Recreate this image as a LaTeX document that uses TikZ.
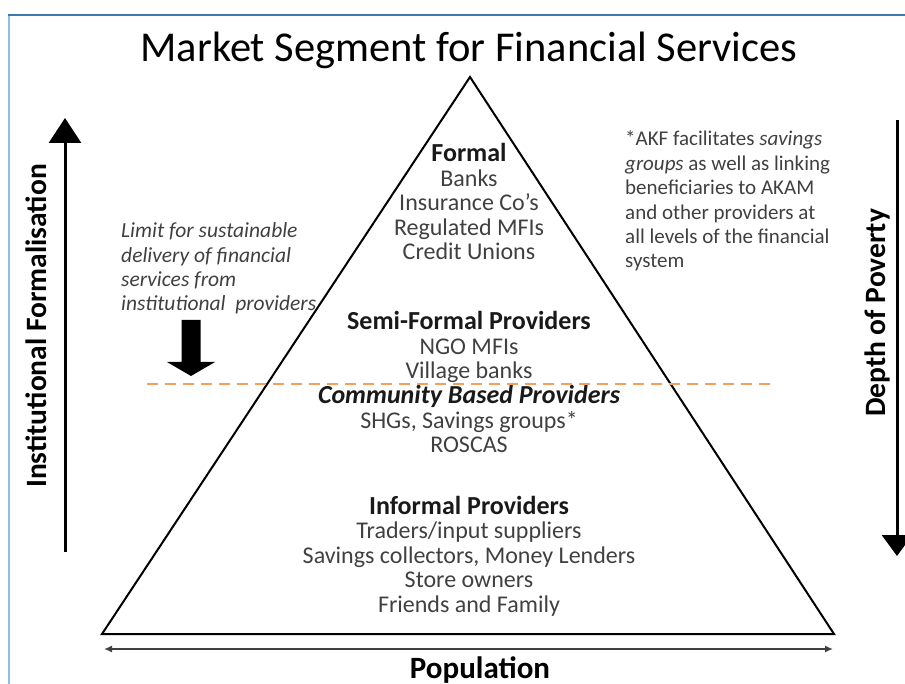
\documentclass[tikz,border=0pt]{standalone}
\usepackage{fontspec}
\setmainfont{Carlito}
\usetikzlibrary{positioning,arrows.meta}

\definecolor{frametop}{RGB}{58,122,176}
\definecolor{frameleft}{RGB}{142,191,224}
\definecolor{limitline}{RGB}{244,160,92}
\newcommand{\tierhead}{\fontsize{26}{24.5}\selectfont\bfseries\color{black!90}}

\begin{document}
\begin{tikzpicture}[x=1pt, y=-1pt,
    tier/.style={align=center, inner sep=0pt, anchor=base, text=black!75, font=\fontsize{24}{24.5}\selectfont},
    sidenote/.style={align=left, inner sep=0pt, anchor=base west, text=black!75, font=\fontsize{21}{24.4}\selectfont},
    axislabel/.style={rotate=90, inner sep=0pt, font=\fontsize{29.5}{32}\selectfont\bfseries}]
    \useasboundingbox (0,0) rectangle (905,684);

    % slide frame
    \draw[frameleft, line width=2pt] (9,15) -- (9,684);
    \draw[frametop, line width=1.5pt] (8,15) -- (905,15);

    % title
    \node[anchor=base, inner sep=0pt, font=\fontsize{42.5}{44}\selectfont] (title) at (469,62) {Market Segment for Financial Services};

    % pyramid
    \coordinate (apex) at (470,77);
    \coordinate (baseL) at (102,634);
    \coordinate (baseR) at (834,634);
    \draw[line width=2pt, line join=miter] (apex) -- (baseL) -- (baseR) -- cycle;

    % tiers of providers (placed by the baseline of their last line)
    \node[tier] (formal) at (469,260) {{\tierhead Formal}\\Banks\\Insurance Co's\\Regulated MFIs\\Credit Unions};
    \node[tier] (semi) at (469,379) {{\tierhead Semi-Formal Providers}\\NGO MFIs\\Village banks};
    \node[tier] (community) at (469,453) {{\tierhead\itshape Community Based Providers}\\SHGs, Savings groups*\\ROSCAS};
    \node[tier] (informal) at (469,612) {{\tierhead Informal Providers}\\Traders/input suppliers\\Savings collectors, Money Lenders\\Store owners\\Friends and Family};

    % limit of institutional providers
    \coordinate (limitL) at (147,384);
    \coordinate (limitR) at (770,384);
    \draw[limitline, line width=2pt, dash pattern=on 11pt off 7pt] (limitL) -- (limitR);
    \node[sidenote, font=\fontsize{21.5}{24.4}\selectfont\itshape] (limit) at (121,311) {Limit for sustainable\\delivery of financial\\services from\\institutional~~providers};
    \fill (181.5,320) -- (200.5,320) -- (200.5,362) -- (215,362) -- (191,376) -- (167,362) -- (181.5,362) -- cycle;

    % note on AKF
    \node[sidenote] (akf) at (625,268) {*AKF facilitates \textit{savings}\\\textit{groups} as well as linking\\beneficiaries to AKAM\\and other providers at\\all levels of the financial\\system};

    % axes
    \coordinate (formLow) at (65,552);
    \coordinate (formHigh) at (65,118);
    \draw[line width=3pt, -{Triangle[width=32pt,length=25pt]}] (formLow) -- (formHigh);
    \node[axislabel] (formalisation) at (36,326) {Institutional Formalisation};

    \coordinate (povTop) at (897,120);
    \coordinate (povLow) at (897,556);
    \draw[line width=3pt, -{Triangle[width=30pt,length=21pt]}] (povTop) -- (povLow);
    \node[axislabel] (poverty) at (877,313) {Depth of Poverty};

    \coordinate (popL) at (104,649);
    \coordinate (popR) at (833,649);
    \draw[black!75, line width=1.5pt, {Latex[length=8pt,width=7pt]}-{Latex[length=8pt,width=7pt]}] (popL) -- (popR);
    \node[anchor=base, inner sep=0pt, font=\fontsize{31}{32}\selectfont\bfseries] (population) at (480,678) {Population};
\end{tikzpicture}
\end{document}
